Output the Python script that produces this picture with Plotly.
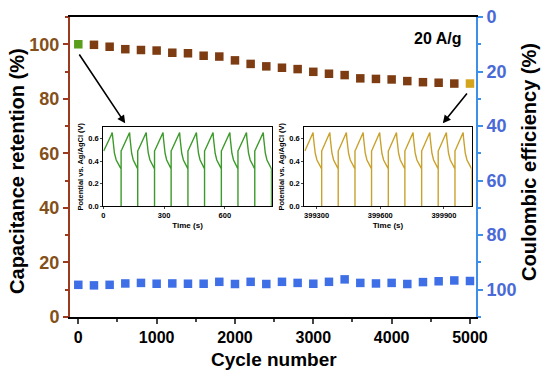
import plotly.graph_objects as go

# ---------------- data ----------------
cycles = [0, 200, 400, 600, 800, 1000, 1200, 1400, 1600, 1800, 2000, 2200, 2400,
          2600, 2800, 3000, 3200, 3400, 3600, 3800, 4000, 4200, 4400, 4600, 4800, 5000]
retention = [100.0, 99.8, 99.1, 98.2, 97.9, 97.7, 96.9, 96.7, 95.8, 95.5, 94.1, 92.8, 91.9,
             91.4, 90.9, 89.9, 89.2, 88.7, 87.5, 87.3, 87.1, 86.5, 86.1, 85.9, 85.6, 85.6]
coulombic = [98.2, 98.4, 98.2, 97.7, 97.5, 97.8, 97.7, 97.8, 97.8, 97.1, 97.9, 97.1, 97.9,
             97.1, 97.5, 97.8, 97.1, 96.2, 97.5, 97.7, 97.5, 97.9, 97.2, 96.9, 96.6, 96.8]

x_ticks = [0, 1000, 2000, 3000, 4000, 5000]
y_ticks = [0, 20, 40, 60, 80, 100]

left_starts = [2, 88, 170, 253, 335, 418, 500, 583, 665, 748]
left_charge_s = 42
left_discharge_s = 40.5
right_starts = [399245, 399324, 399402, 399481, 399559, 399638, 399716, 399795, 399873, 399952]
right_charge_s = 38.5
right_discharge_s = 40

charge_frac = [0, 0.1, 0.25, 0.5, 0.75, 0.9, 1.0]
charge_v = [0.49, 0.505, 0.53, 0.57, 0.61, 0.635, 0.655]
discharge_frac = [0, 0.04, 0.12, 0.25, 0.45, 0.65, 0.85, 1.0]
discharge_v = [0.655, 0.61, 0.54, 0.47, 0.41, 0.375, 0.35, 0.33]

left_ticks = [0, 300, 600]
right_ticks = [399300, 399600, 399900]
inset_yticks = [0.0, 0.2, 0.4, 0.6]

BROWN = "#7d3c12"
AXBROWN = "#9b3a1c"
TICKBROWN = "#84501a"
BLUE = "#3e6fe6"
AXBLUE = "#3d8fe8"
TICKBLUE = "#4a6ad8"
GREEN = "#3c9a2a"
GOLD = "#c9a22c"
FONT = "Liberation Sans"


def build_gcd(starts, ch, dis):
    xs, ys = [], []
    for i, s in enumerate(starts):
        peak = s + ch
        for f, v in zip(charge_frac, charge_v):
            xs.append(s + f * ch)
            ys.append(v)
        end = starts[i + 1] if i + 1 < len(starts) else peak + dis
        d = end - peak
        for f, v in zip(discharge_frac, discharge_v):
            xs.append(peak + f * d)
            ys.append(v)
        xs.append(end)
        ys.append(0.0)
    return xs, ys


fig = go.Figure()

colors = [BROWN] * len(cycles)
colors[0] = "#5a9e1c"
colors[-1] = "#d4a41c"

fig.add_trace(go.Scatter(x=cycles, y=retention, mode="markers",
                         marker=dict(symbol="square", size=8.5, color=colors),
                         xaxis="x", yaxis="y"))
fig.add_trace(go.Scatter(x=cycles, y=coulombic, mode="markers",
                         marker=dict(symbol="square", size=8.5, color=BLUE),
                         xaxis="x", yaxis="y2"))

lx, ly = build_gcd(left_starts, left_charge_s, left_discharge_s)
rx, ry = build_gcd(right_starts, right_charge_s, right_discharge_s)
fig.add_trace(go.Scatter(x=lx, y=ly, mode="lines", line=dict(color=GREEN, width=1.4),
                         xaxis="x3", yaxis="y3"))
fig.add_trace(go.Scatter(x=rx, y=ry, mode="lines", line=dict(color=GOLD, width=1.4),
                         xaxis="x4", yaxis="y4"))

tick_b = dict(family=FONT, size=16, color="black", weight="bold")
inset_font = dict(family=FONT, size=7.5, color="black", weight="bold")
inset_tfont = dict(family=FONT, size=8, color="black", weight="bold")


def inset_x(domain, rng, vals, anchor):
    return dict(domain=domain, anchor=anchor, range=rng, tickvals=vals,
                ticktext=[str(v) for v in vals], automargin=False,
                ticks="outside", ticklen=2, showline=True, linecolor="black", linewidth=1,
                mirror=True, showgrid=False, zeroline=False, tickfont=inset_font,
                title=dict(text="Time (s)", standoff=3, font=inset_tfont))


def inset_y(anchor):
    return dict(domain=[0.37, 0.632], anchor=anchor, range=[0, 0.7], tickvals=inset_yticks,
                tickformat=".1f", ticks="outside", ticklen=2, showline=True, linecolor="black",
                linewidth=1, mirror=True, showgrid=False, zeroline=False, tickfont=inset_font,
                automargin=False,
                title=dict(text="Potential vs. Ag/AgCl (V)", standoff=3, font=inset_font))


fig.update_layout(
    width=550, height=378,
    margin=dict(l=70, r=74, t=17, b=61, autoexpand=False),
    plot_bgcolor="white", paper_bgcolor="white",
    showlegend=False,
    font=dict(family=FONT),
    xaxis=dict(range=[-106, 5077], tickvals=x_ticks, ticks="outside", ticklen=5,
               tickwidth=1.5, minor=dict(dtick=500, ticklen=3, ticks="outside", tick0=0),
               showline=True, linecolor="black", linewidth=1.5, mirror=True,
               showgrid=False, zeroline=False, tickfont=tick_b, automargin=False),
    yaxis=dict(range=[0, 110], tickvals=y_ticks, ticks="outside", ticklen=5, tickwidth=1.5,
               tickcolor=AXBROWN, minor=dict(dtick=10, ticklen=3, ticks="outside", tick0=0,
                                             tickcolor=AXBROWN),
               showline=True, linecolor=AXBROWN, linewidth=2, showgrid=False, zeroline=False,
               tickfont=dict(family=FONT, size=18, color=TICKBROWN, weight="bold"),
               automargin=False),
    yaxis2=dict(range=[110, 0], tickvals=y_ticks, overlaying="y", side="right",
                ticks="outside", ticklen=5, tickwidth=1.5, tickcolor=AXBLUE,
                minor=dict(dtick=10, ticklen=3, ticks="outside", tick0=0, tickcolor=AXBLUE),
                showline=True, linecolor=AXBLUE, linewidth=2, showgrid=False, zeroline=False,
                tickfont=dict(family=FONT, size=18, color=TICKBLUE, weight="bold"),
                automargin=False),
    xaxis3=inset_x([0.082, 0.497], [0, 832], left_ticks, "y3"),
    yaxis3=inset_y("x3"),
    xaxis4=inset_x([0.577, 0.989], [399242, 400030], right_ticks, "y4"),
    yaxis4=inset_y("x4"),
)

title_font = dict(family=FONT, size=20, color="black", weight="bold")
fig.add_annotation(x=0.502, y=-0.143, xref="paper", yref="paper", text="Cycle number",
                   xanchor="center", yanchor="middle",
                   showarrow=False, font=dict(family=FONT, size=19, color="black", weight="bold"))
fig.add_annotation(x=-0.1305, y=0.487, xref="paper", yref="paper",
                   text="Capacitance retention (%)", textangle=-90,
                   xanchor="center", yanchor="middle",
                   showarrow=False, font=title_font)
fig.add_annotation(x=1.1305, y=0.517, xref="paper", yref="paper",
                   text="Coulombic efficiency (%)", textangle=-90,
                   xanchor="center", yanchor="middle",
                   showarrow=False, font=title_font)

fig.add_annotation(x=4589, y=102.3, xref="x", yref="y", text="<b>20 A/g</b>",
                   showarrow=False, font=dict(family=FONT, size=16, color="black"))
fig.add_annotation(x=598, y=71, ax=0, ay=96.8, xref="x", yref="y", axref="x", ayref="y",
                   text="", showarrow=True, arrowhead=2, arrowsize=1, arrowwidth=1.6,
                   arrowcolor="black")
fig.add_annotation(x=4653, y=71, ax=4977, ay=82.5, xref="x", yref="y", axref="x", ayref="y",
                   text="", showarrow=True, arrowhead=2, arrowsize=1, arrowwidth=1.6,
                   arrowcolor="black")

fig.write_html("out.html", config={"displayModeBar": False},
               post_script="document.body.style.margin='0px';document.body.style.padding='0px';")
